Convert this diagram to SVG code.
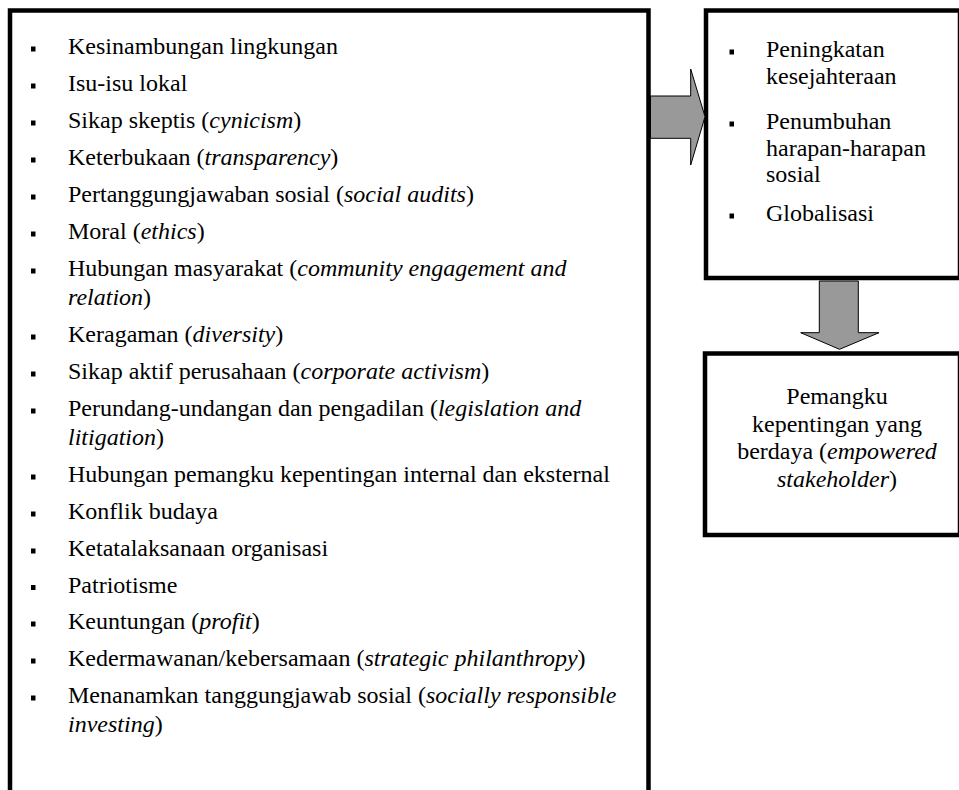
<svg xmlns="http://www.w3.org/2000/svg" width="959" height="790" viewBox="0 0 959 790" font-family="'Liberation Serif', 'Times New Roman', Times, serif" font-size="24">
<style>
.box{fill:#fff;stroke:#000;stroke-width:4.5}
.arr{fill:#999;stroke:#000;stroke-width:1}
text{font-family:'Liberation Serif','Times New Roman',Times,serif;font-size:24px;fill:#000}
.c{text-anchor:middle}
.b{fill:#000}
.i{font-style:italic}
</style>
<rect width="959" height="790" fill="#fff"/>
<g id="factors">
<rect class="box" x="10" y="10.5" width="638.5" height="800"/>
<rect class="b" x="31" y="46.5" width="4.5" height="5"/><text x="68" y="54">Kesinambungan lingkungan</text>
<rect class="b" x="31" y="83.5" width="4.5" height="5"/><text x="68" y="91">Isu-isu lokal</text>
<rect class="b" x="31" y="120.5" width="4.5" height="5"/><text x="68" y="128">Sikap skeptis (<tspan class="i">cynicism</tspan>)</text>
<rect class="b" x="31" y="157.5" width="4.5" height="5"/><text x="68" y="165">Keterbukaan (<tspan class="i">transparency</tspan>)</text>
<rect class="b" x="31" y="194.5" width="4.5" height="5"/><text x="68" y="202">Pertanggungjawaban sosial (<tspan class="i">social audits</tspan>)</text>
<rect class="b" x="31" y="231.5" width="4.5" height="5"/><text x="68" y="239">Moral (<tspan class="i">ethics</tspan>)</text>
<rect class="b" x="31" y="268.5" width="4.5" height="5"/><text x="68" y="276">Hubungan masyarakat (<tspan class="i">community engagement and</tspan></text>
<text x="68" y="304.5"><tspan class="i">relation</tspan>)</text>
<rect class="b" x="31" y="334.5" width="4.5" height="5"/><text x="68" y="342">Keragaman (<tspan class="i">diversity</tspan>)</text>
<rect class="b" x="31" y="371.5" width="4.5" height="5"/><text x="68" y="379">Sikap aktif perusahaan (<tspan class="i">corporate activism</tspan>)</text>
<rect class="b" x="31" y="408.5" width="4.5" height="5"/><text x="68" y="416">Perundang-undangan dan pengadilan (<tspan class="i">legislation and</tspan></text>
<text x="68" y="445"><tspan class="i">litigation</tspan>)</text>
<rect class="b" x="31" y="474.5" width="4.5" height="5"/><text x="68" y="482">Hubungan pemangku kepentingan internal dan eksternal</text>
<rect class="b" x="31" y="511.5" width="4.5" height="5"/><text x="68" y="519">Konflik budaya</text>
<rect class="b" x="31" y="548.5" width="4.5" height="5"/><text x="68" y="556">Ketatalaksanaan organisasi</text>
<rect class="b" x="31" y="585" width="4.5" height="5"/><text x="68" y="592.5">Patriotisme</text>
<rect class="b" x="31" y="621.5" width="4.5" height="5"/><text x="68" y="629">Keuntungan (<tspan class="i">profit</tspan>)</text>
<rect class="b" x="31" y="658.5" width="4.5" height="5"/><text x="68" y="666">Kedermawanan/kebersamaan (<tspan class="i">strategic philanthropy</tspan>)</text>
<rect class="b" x="31" y="695.5" width="4.5" height="5"/><text x="68" y="703">Menanamkan tanggungjawab sosial (<tspan class="i">socially responsible</tspan></text>
<text x="68" y="732"><tspan class="i">investing</tspan>)</text>
</g>
<g id="drivers">
<rect class="box" x="706" y="10.5" width="254" height="267.5"/>
<rect class="b" x="729.5" y="49.5" width="4.5" height="5"/><text x="766" y="57">Peningkatan</text>
<text x="766" y="83.5">kesejahteraan</text>
<rect class="b" x="729.5" y="121.5" width="4.5" height="5"/><text x="766" y="129">Penumbuhan</text>
<text x="766" y="155.5">harapan-harapan</text>
<text x="766" y="182">sosial</text>
<rect class="b" x="729.5" y="213.5" width="4.5" height="5"/><text x="766" y="221">Globalisasi</text>
</g>
<g id="stakeholder">
<rect class="box" x="705" y="353.5" width="255" height="181.5"/>
<text class="c" x="837" y="404">Pemangku</text>
<text class="c" x="837" y="431.5">kepentingan yang</text>
<text class="c" x="837" y="459">berdaya (<tspan class="i">empowered</tspan></text>
<text class="c" x="837" y="486.5"><tspan class="i">stakeholder</tspan>)</text>
</g>
<g id="connectors">
<path class="arr" d="M650.5,96 L690.7,96 L690.7,69 L705,116.7 L690.7,165 L690.7,138.3 L650.5,138.3 Z"/>
<path class="arr" d="M819.3,281 L858.3,281 L858.3,332.7 L879,332.7 L839.5,349.3 L800.7,332.7 L819.3,332.7 Z"/>
</g>
</svg>
